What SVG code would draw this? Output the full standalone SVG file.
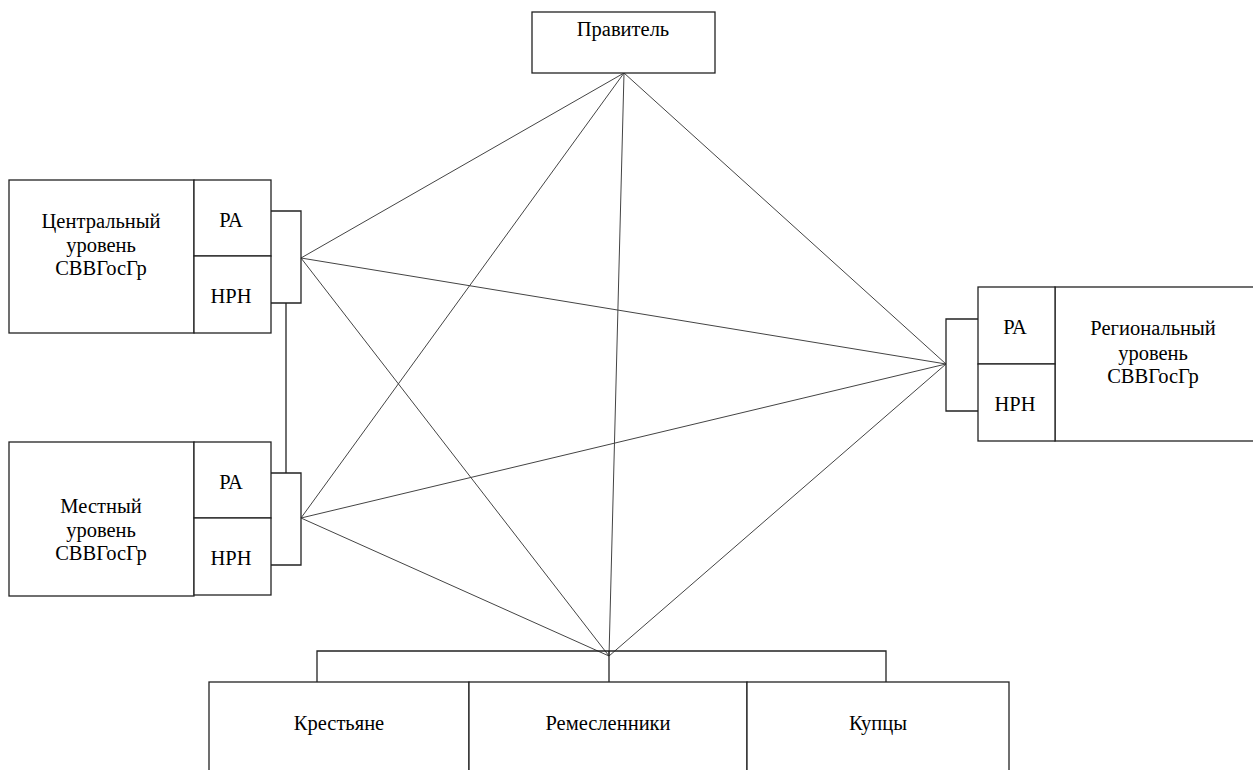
<svg xmlns="http://www.w3.org/2000/svg" width="1253" height="770" viewBox="0 0 1253 770">
<style>
.box{fill:#fff;stroke:#222;stroke-width:1.3}
.br{fill:none;stroke:#222;stroke-width:1.3}
.ln{fill:none;stroke:#444;stroke-width:1}
text{font-family:'Liberation Serif','DejaVu Serif',serif;font-size:20.5px;fill:#000;text-anchor:middle}
</style>
<rect width="1253" height="770" fill="#fff"/>
<g id="connectors">
<line class="ln" x1="624" y1="73" x2="301" y2="258"/>
<line class="ln" x1="624" y1="73" x2="301" y2="518"/>
<line class="ln" x1="624" y1="73" x2="609" y2="656"/>
<line class="ln" x1="624" y1="73" x2="946" y2="364"/>
<line class="ln" x1="301" y1="258" x2="946" y2="364"/>
<line class="ln" x1="301" y1="258" x2="609" y2="656"/>
<line class="ln" x1="301" y1="518" x2="946" y2="364"/>
<line class="ln" x1="301" y1="518" x2="609" y2="656"/>
<line class="ln" x1="946" y1="364" x2="609" y2="656"/>
<line class="br" x1="286" y1="303" x2="286" y2="473"/>
<polyline class="br" points="271,211 301,211 301,303 271,303"/>
<polyline class="br" points="271,473 301,473 301,565 271,565"/>
<polyline class="br" points="978,319 946,319 946,411 978,411"/>
<polyline class="br" points="317,682 317,651 886,651 886,682"/>
<line class="br" x1="609" y1="651" x2="609" y2="682"/>
</g>
<g id="ruler">
<rect class="box" x="532" y="12" width="183" height="61"/>
<text x="623" y="36">Правитель</text>
</g>
<g id="central">
<rect class="box" x="9" y="180" width="185" height="153"/>
<rect class="box" x="194" y="180" width="77" height="76"/>
<rect class="box" x="194" y="256" width="77" height="77"/>
<text x="101" y="228">Центральный</text>
<text x="101" y="252">уровень</text>
<text x="101" y="275">СВВГосГр</text>
<text x="231" y="227">РА</text>
<text x="231" y="303">НРН</text>
</g>
<g id="local">
<rect class="box" x="9" y="442" width="185" height="154"/>
<rect class="box" x="194" y="442" width="77" height="76"/>
<rect class="box" x="194" y="518" width="77" height="77"/>
<text x="101" y="513">Местный</text>
<text x="101" y="537">уровень</text>
<text x="101" y="560">СВВГосГр</text>
<text x="231" y="489">РА</text>
<text x="231" y="565">НРН</text>
</g>
<g id="regional">
<rect class="box" x="1055" y="287" width="210" height="154"/>
<rect class="box" x="978" y="287" width="77" height="77"/>
<rect class="box" x="978" y="364" width="77" height="77"/>
<text x="1153" y="335">Региональный</text>
<text x="1153" y="360">уровень</text>
<text x="1153" y="383">СВВГосГр</text>
<text x="1015" y="334">РА</text>
<text x="1015" y="411">НРН</text>
</g>
<g id="peasants">
<rect class="box" x="209" y="682" width="260" height="100"/>
<text x="339" y="730">Крестьяне</text>
</g>
<g id="craftsmen">
<rect class="box" x="469" y="682" width="278" height="100"/>
<text x="608" y="730">Ремесленники</text>
</g>
<g id="merchants">
<rect class="box" x="747" y="682" width="262" height="100"/>
<text x="878" y="730">Купцы</text>
</g>
</svg>
